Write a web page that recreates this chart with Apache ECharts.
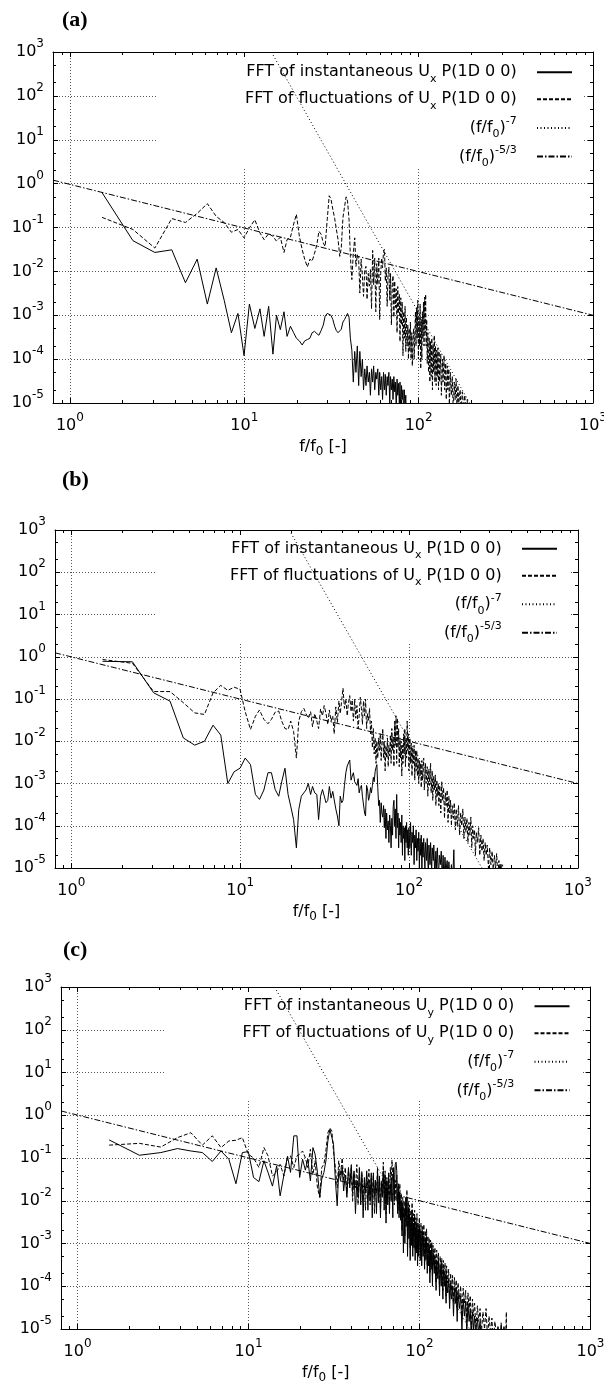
<!DOCTYPE html>
<html><head><meta charset="utf-8">
<script src="https://cdn.jsdelivr.net/npm/echarts@6/dist/echarts.min.js"></script>
<style>html,body{margin:0;padding:0;background:#fff}#c{width:604px;height:1384px}</style>
</head><body><div id="c"></div>
<script>
// ---------- tick values ----------
const X_MAJOR = [1, 10, 100, 1000];
const X_MINOR = [0.9, 2, 3, 4, 5, 6, 7, 8, 9, 20, 30, 40, 50, 60, 70, 80, 90, 200, 300, 400, 500, 600, 700, 800, 900];
const Y_MAJOR = [1e-5, 1e-4, 1e-3, 1e-2, 1e-1, 1, 10, 100, 1000];
const Y_MINOR = [2e-5, 5e-5, 2e-4, 5e-4, 2e-3, 5e-3, 0.02, 0.05, 0.2, 0.5, 2, 5, 20, 50, 200, 500];

// ---------- (a) ----------
const instA = [
[1.53,0.62],[2.30,0.05],[3.07,0.027],[3.84,0.031],[4.60,0.0055],[5.37,0.019],[6.14,0.0018],[6.90,0.012],[7.67,0.0022],[8.44,0.0004],[9.20,0.0011],[9.97,0.00012],
[10.7,0.0018],[11.5,0.0005],[12.3,0.0014],[13.0,0.00033],[13.8,0.0016],[14.6,0.00013],[15.3,0.001],[16.1,0.00047],[16.9,0.0012],[17.6,0.00033],[18.4,0.00056],[19.2,0.0004],[19.9,0.0003],
[20.7,0.00026],[21.5,0.00021],[22.2,0.00026],[23.0,0.00028],[23.8,0.0003],[24.5,0.0004],[25.3,0.00043],[26.1,0.00038],[26.8,0.00035],[27.6,0.00045],[28.4,0.0006],[29.1,0.00095],[29.9,0.0011],
[30.7,0.0012],[31.4,0.001],[32.2,0.0008],[33.0,0.00056],[33.7,0.00045],[34.5,0.0004],[35.3,0.0004],[36.0,0.00048],[36.8,0.0007],[37.6,0.0008],[38.4,0.00095],[39.1,0.0011],[39.9,0.0009],
[40.6,0.0003],[41.4,0.00016],[42.2,0.00003],[43.0,0.00015],[43.7,0.00005],[44.5,0.0002],[45.3,0.000025],[46.0,0.00015],[46.8,0.00004],[47.6,0.0001],[48.3,0.00002],[49.1,0.00006],[49.9,0.000025],
[50.6,0.00007],[51.4,0.00003],[52.2,0.00005],[52.9,0.000015],[53.7,0.00006],[54.5,0.00003],[55.2,0.00007],[56.0,0.00002],[56.8,0.00005],[57.5,0.000035],[58.3,0.00006],[59.1,0.000015],[59.8,0.00005],
[60.6,0.00002],[61.4,0.00004],[62.1,0.000012],[62.9,0.00005],[63.7,0.00002],[64.4,0.000045],[65.2,0.000015],[66.0,0.00004],[66.7,0.000025],[67.5,0.00005],[68.3,0.00001],[69.0,0.00004],[69.8,0.00002],
[70.6,0.000035],[71.3,0.000012],[72.1,0.00004],[72.9,0.000018],[73.6,0.00003],[74.4,0.000008],[75.2,0.000035],[75.9,0.000015],[76.7,0.000028],[77.5,0.00001],[78.2,0.00003],[79.0,0.000006],[79.8,0.000025],
[80.5,0.000012],[81.3,0.00002],[82.1,0.000005],[82.8,0.00002],[83.6,0.000009],[84.4,0.000015],[85.1,0.000004]
];
const flucA = [
[1.53,0.17],[2.30,0.09],[3.07,0.034],[3.84,0.16],[4.60,0.13],[5.37,0.21],[6.14,0.35],[6.90,0.18],[7.67,0.13],[8.44,0.078],[9.20,0.09],[9.97,0.058],
[10.7,0.098],[11.5,0.15],[12.3,0.075],[13.0,0.053],[13.8,0.072],[14.6,0.063],[15.3,0.049],[16.1,0.06],[16.9,0.027],[17.6,0.053],[18.4,0.06],[19.2,0.12],[19.9,0.2],
[20.7,0.063],[21.5,0.031],[22.2,0.019],[23.0,0.0126],[23.8,0.019],[24.5,0.017],[25.3,0.026],[26.1,0.041],[26.8,0.082],[27.6,0.07],[28.4,0.044],[29.1,0.037],[29.9,0.15],
[30.7,0.53],[31.4,0.45],[32.2,0.26],[33.0,0.16],[33.7,0.15],[34.5,0.053],[35.3,0.022],[36.0,0.034],[36.8,0.165],[37.6,0.3],[38.4,0.5],[39.1,0.4],[39.9,0.15],
[40.6,0.022],[41.4,0.0065],[42.2,0.026],[43.0,0.058],[43.7,0.013],[44.5,0.024],[45.3,0.019],[46.0,0.0032],[46.8,0.019],[47.6,0.0077],[48.3,0.0027],[49.1,0.011],[49.9,0.013],
[50.6,0.0023],[51.4,0.009],[52.2,0.0046],[52.9,0.011],[53.7,0.0014],[54.5,0.03],[55.2,0.005],[56.0,0.02],[56.8,0.0012],[57.5,0.015],[58.3,0.005],[59.1,0.02],[59.8,0.0008],
[60.6,0.009],[61.4,0.02],[62.1,0.012],[62.9,0.028],[63.7,0.032],[64.4,0.006],[65.2,0.012],[66.0,0.0016],[66.7,0.008],[67.5,0.0125],[68.3,0.0022],[69.0,0.009],[69.8,0.0006],
[70.6,0.005],[71.3,0.008],[72.1,0.0009],[72.9,0.006],[73.6,0.0015],[74.4,0.004],[75.2,0.0004],[75.9,0.0045],[76.7,0.0011],[77.5,0.003],[78.2,0.00025],[79.0,0.0025],[79.8,0.0006],
[80.5,0.002],[81.3,0.00012],[82.1,0.0012],[82.8,0.0003],[83.6,0.0016],[84.4,0.00015],[85.1,0.0009],[85.9,0.0002],[86.7,0.0006],[87.4,0.0001],[88.2,0.0005],[89.0,0.00015],[89.7,0.0007],
[90.5,0.0001],[91.3,0.0004],[92.0,0.00007],[92.8,0.0003],[93.6,0.0005],[94.3,0.0001],[95.1,0.0004],[95.9,0.0012],[96.6,0.0002],[97.4,0.0015],[98.2,0.0003],[98.9,0.0022],[99.7,0.0001],
[100.5,0.0009],[101.2,0.0002],[102,0.0018],[102.8,0.00006],[103.6,0.0008],[104.3,0.0001],[105.1,0.0012],[105.9,0.0003],[106.6,0.002],[107.4,0.0002],[108.2,0.0026],[108.9,0.0004],[109.7,0.003],
[110.5,0.0002],[111.2,0.0008],[112,0.00008],[113,0.0004],[114,0.00005],[115,0.0003],[116,0.00003],[117,0.00025],[118,0.00004],[119,0.0003],[120,0.00002],[121,0.00022],[122,0.00005],
[123,0.00035],[124,0.00003],[125,0.0002],[126,0.000025],[127,0.00016],[128,0.00004],[129,0.00018],[130,0.00002],[131,0.00015],[132,0.00003],[134,0.00013],[135,0.000015],[137,0.0001],
[138,0.00003],[140,0.00012],[141,0.00002],[143,0.00008],[144,0.000012],[146,0.00007],[147,0.00002],[149,0.00006],[150,0.000008],[152,0.00005],[154,0.000015],[156,0.00004],[158,0.000006],
[160,0.00003],[162,0.000012],[164,0.000035],[166,0.000008],[168,0.000025],[170,0.00001],[173,0.00002],[175,0.000006],[178,0.000018],[181,0.000008],[184,0.000015],[187,0.000005],[190,0.000012],[192,0.000004]
];
const powA7 = [[14.3, 1000], [196, 1e-5]];
const powA53 = [[0.8, 1.2], [1000, 0.001]];

// ---------- (b) ----------
const instB = [
[1.53,0.78],[2.30,0.76],[3.07,0.14],[3.84,0.089],[4.60,0.012],[5.37,0.0081],[6.14,0.01],[6.90,0.024],[7.67,0.014],[8.44,0.001],[9.20,0.0019],[9.97,0.0023],
[10.7,0.004],[11.5,0.0028],[12.3,0.00055],[13.0,0.00042],[13.8,0.0007],[14.6,0.0018],[15.3,0.0018],[16.1,0.00072],[16.9,0.0005],[17.6,0.0011],[18.4,0.0023],[19.2,0.00055],[19.9,0.00029],
[20.7,0.00014],[21.5,0.00003],[22.2,0.00024],[23.0,0.0005],[23.8,0.0006],[24.5,0.0007],[25.3,0.001],[26.1,0.00055],[26.8,0.00085],[27.6,0.0006],[28.4,0.00055],[29.1,0.00014],[29.9,0.0005],
[30.7,0.00072],[31.4,0.00072],[32.2,0.00035],[33.0,0.0004],[33.7,0.00085],[34.5,0.00045],[35.3,0.00065],[36.0,0.0007],[36.8,0.00025],[37.6,0.00017],[38.4,0.0001],[39.1,0.0005],[39.9,0.00035],
[40.6,0.0004],[41.4,0.0009],[42.2,0.0018],[43.0,0.0026],[43.7,0.0028],[44.5,0.0036],[45.3,0.0012],[46.0,0.0015],[46.8,0.0018],[47.6,0.0011],[48.3,0.0012],[49.1,0.0009],[49.9,0.0013],
[50.6,0.0006],[51.4,0.0008],[52.2,0.0009],[52.9,0.0005],[53.7,0.00055],[54.5,0.0002],[55.2,0.00017],[56.0,0.0009],[56.8,0.0007],[57.5,0.0004],[58.3,0.0005],[59.1,0.0008],[59.8,0.0006],
[60.6,0.0009],[61.4,0.0014],[62.1,0.0011],[62.9,0.0019],[63.7,0.0024],[64.4,0.0028],[65.2,0.0008],[66.0,0.0003],[66.7,0.0004],[67.5,0.00012],[68.3,0.00035],[69.0,0.0002],[69.8,0.00016],
[70.6,0.0003],[71.3,0.00009],[72.1,0.00025],[72.9,0.00005],[73.6,0.0002],[74.4,0.00008],[75.2,0.00013],[75.9,0.00004],[76.7,0.00018],[77.5,0.0001],[78.2,0.00003],[79.0,0.00015],[79.8,0.00006],
[80.5,0.00028],[81.3,0.0004],[82.1,0.0001],[82.8,0.00025],[83.6,0.00005],[84.4,0.00055],[85.1,0.00009],[85.9,0.0002],[86.7,0.00003],[87.4,0.00015],[88.2,0.00006],[89.0,0.00012],[89.7,0.00004],
[90.5,0.00018],[91.3,0.00002],[92.0,0.0001],[92.8,0.00005],[93.6,0.00009],[94.3,0.000015],[95.1,0.0001],[95.9,0.00004],[96.6,0.00012],[97.4,0.00003],[98.2,0.00008],[98.9,0.00002],[99.7,0.00009],
[101,0.00003],[102,0.00012],[103,0.00002],[104,0.00007],[105,0.00004],[106,0.0001],[107,0.000012],[108,0.00006],[109,0.00003],[110,0.00008],[111,0.000015],[112,0.00005],[113,0.000025],
[114,0.00007],[115,0.00001],[116,0.00005],[117,0.00002],[118,0.00006],[119,0.000008],[120,0.00004],[121,0.000018],[122,0.00005],[124,0.00001],[125,0.00004],[127,0.000015],[128,0.00005],
[130,0.000006],[131,0.000035],[133,0.000012],[134,0.00004],[136,0.000008],[137,0.00003],[139,0.000015],[140,0.000035],[142,0.000006],[144,0.000025],[145,0.00001],[147,0.00003],[149,0.000005],
[151,0.00002],[153,0.000012],[155,0.000025],[157,0.000006],[159,0.00002],[161,0.000004],[163,0.000018],[165,0.000008],[168,0.000015],[170,0.000005],[172,0.000014],[175,0.000004],[178,0.000012],
[181,0.000005],[184,0.000027],[186,0.000004]
];
const flucB = [
[1.53,0.86],[2.30,0.70],[3.07,0.15],[3.84,0.15],[4.60,0.082],[5.37,0.047],[6.14,0.043],[6.90,0.14],[7.67,0.21],[8.44,0.16],[9.20,0.19],[9.97,0.17],
[10.7,0.05],[11.5,0.019],[12.3,0.039],[13.0,0.055],[13.8,0.033],[14.6,0.026],[15.3,0.033],[16.1,0.049],[16.9,0.052],[17.6,0.03],[18.4,0.02],[19.2,0.019],[19.9,0.03],
[20.7,0.017],[21.5,0.004],[22.2,0.03],[23.0,0.05],[23.8,0.06],[24.5,0.045],[25.3,0.035],[26.1,0.05],[26.8,0.022],[27.6,0.045],[28.4,0.03],[29.1,0.02],[29.9,0.058],
[30.7,0.04],[31.4,0.07],[32.2,0.045],[33.0,0.025],[33.7,0.055],[34.5,0.03],[35.3,0.04],[36.0,0.015],[36.8,0.065],[37.6,0.028],[38.4,0.09],[39.1,0.045],[39.9,0.05],
[40.6,0.18],[41.4,0.06],[42.2,0.1],[43.0,0.04],[43.7,0.08],[44.5,0.12],[45.3,0.05],[46.0,0.095],[46.8,0.03],[47.6,0.1],[48.3,0.035],[49.1,0.07],[49.9,0.02],
[50.6,0.04],[51.4,0.11],[52.2,0.06],[52.9,0.025],[53.7,0.09],[54.5,0.04],[55.2,0.1],[56.0,0.02],[56.8,0.045],[57.5,0.03],[58.3,0.06],[59.1,0.015],[59.8,0.03],
[60.6,0.007],[61.4,0.02],[62.1,0.005],[62.9,0.012],[63.7,0.003],[64.4,0.01],[65.2,0.004],[66.0,0.012],[66.7,0.006],[67.5,0.015],[68.3,0.0035],[69.0,0.009],[69.8,0.02],
[70.6,0.004],[71.3,0.01],[72.1,0.002],[72.9,0.008],[73.6,0.004],[74.4,0.012],[75.2,0.0025],[75.9,0.008],[76.7,0.0045],[77.5,0.014],[78.2,0.003],[79.0,0.02],[79.8,0.006],
[80.5,0.012],[81.3,0.0025],[82.1,0.03],[82.8,0.008],[83.6,0.04],[84.4,0.003],[85.1,0.035],[85.9,0.007],[86.7,0.02],[87.4,0.0025],[88.2,0.012],[89.0,0.004],[89.7,0.01],
[90.5,0.0015],[91.3,0.008],[92.0,0.003],[92.8,0.015],[93.6,0.005],[94.3,0.02],[95.1,0.0025],[95.9,0.012],[96.6,0.004],[97.4,0.03],[98.2,0.006],[98.9,0.015],[99.7,0.002],
[101,0.012],[102,0.003],[103,0.009],[104,0.0015],[105,0.007],[106,0.003],[107,0.008],[108,0.0012],[109,0.006],[110,0.002],[111,0.006],[112,0.0015],[113,0.004],[114,0.001],
[115,0.0035],[116,0.0015],[117,0.003],[118,0.0008],[119,0.0035],[120,0.0012],[122,0.004],[123,0.0007],[125,0.003],[126,0.001],[128,0.0025],[129,0.0005],[131,0.0022],[132,0.0009],
[134,0.003],[135,0.0006],[137,0.002],[138,0.0004],[140,0.0015],[141,0.0007],[143,0.0016],[144,0.0003],[146,0.0012],[147,0.0005],[149,0.001],[150,0.0003],[152,0.0009],[154,0.0002],
[156,0.0011],[158,0.0004],[160,0.0008],[162,0.00015],[164,0.0006],[166,0.0003],[168,0.0007],[170,0.00012],[172,0.0005],[174,0.0002],[176,0.0004],[178,0.0001],[180,0.0003],[183,0.00015],
[185,0.00035],[188,0.00008],[190,0.00025],[193,0.0001],[196,0.0003],[199,0.00006],[202,0.0002],[205,0.0001],[208,0.00025],[211,0.00005],[214,0.00016],[217,0.00007],[220,0.00015],
[223,0.00004],[226,0.00012],[229,0.00006],[232,0.00016],[235,0.00003],[238,0.0001],[241,0.00005],[244,0.00008],[247,0.00002],[250,0.00007],[254,0.00004],[258,0.00009],[262,0.00002],
[266,0.00006],[270,0.000025],[274,0.00005],[278,0.000015],[282,0.00004],[286,0.00002],[290,0.000035],[295,0.00001],[300,0.00003],[305,0.000012],[310,0.000025],[315,0.000008],
[320,0.00002],[325,0.00001],[330,0.000022],[335,0.000006],[340,0.000015],[345,0.000008],[350,0.000013],[355,0.000006],[358,0.000012]
];
const powB7 = [[19.5, 1000], [270, 1e-5]];
const powB53 = [[0.8, 1.24], [1000, 0.001]];

// ---------- (c) ----------
const instC = [
[1.53,0.265],[2.30,0.116],[3.07,0.134],[3.84,0.166],[4.60,0.146],[5.37,0.134],[6.14,0.083],[6.90,0.146],[7.67,0.094],[8.44,0.025],[9.20,0.134],[9.97,0.141],
[10.7,0.035],[11.5,0.028],[12.3,0.086],[13.0,0.046],[13.8,0.022],[14.6,0.065],[15.3,0.013],[16.1,0.04],[16.9,0.11],[17.6,0.046],[18.4,0.33],[19.2,0.33],[19.9,0.035],
[20.7,0.094],[21.5,0.052],[22.2,0.094],[23.0,0.029],[23.8,0.175],[24.5,0.123],[25.3,0.046],[26.1,0.012],[26.8,0.032],[27.6,0.046],[28.4,0.09],[29.1,0.25],[29.9,0.47],
[30.7,0.45],[31.4,0.21],[32.2,0.03],[33.0,0.0076],[33.7,0.05],[34.5,0.03],[35.3,0.06],[36.0,0.017],[36.8,0.04],[37.6,0.012],[38.4,0.06],[39.1,0.02],[39.9,0.07],
[40.6,0.015],[41.4,0.05],[42.2,0.005],[43.0,0.03],[43.7,0.012],[44.5,0.06],[45.3,0.008],[46.0,0.04],[46.8,0.004],[47.6,0.035],[48.3,0.015],[49.1,0.05],[49.9,0.006],
[50.6,0.03],[51.4,0.01],[52.2,0.045],[52.9,0.004],[53.7,0.04],[54.5,0.012],[55.2,0.03],[56.0,0.005],[56.8,0.05],[57.5,0.009],[58.3,0.035],[59.1,0.004],[59.8,0.025],
[60.6,0.012],[61.4,0.05],[62.1,0.006],[62.9,0.04],[63.7,0.003],[64.4,0.03],[65.2,0.008],[66.0,0.045],[66.7,0.005],[67.5,0.025],[68.3,0.01],[69.0,0.035],[69.8,0.004],
[70.6,0.06],[71.3,0.012],[72.1,0.07],[72.9,0.08],[73.6,0.05],[74.4,0.006],[75.2,0.025],[75.9,0.004],[76.7,0.015],[77.5,0.0035],[78.2,0.01],[79.0,0.0015],[79.8,0.008],
[80.5,0.0006],[81.3,0.006],[82.1,0.001],[82.8,0.009],[83.6,0.0025],[84.4,0.012],[85.1,0.0005],[85.9,0.007],[86.7,0.0013],[87.4,0.005],[88.2,0.0004],[89.0,0.004],[89.7,0.0009],
[90.5,0.006],[91.3,0.0005],[92.0,0.003],[92.8,0.0008],[93.6,0.004],[94.3,0.0004],[95.1,0.0025],[95.9,0.0006],[96.6,0.003],[97.4,0.0003],[98.2,0.002],[98.9,0.0005],[99.7,0.0025],
[101,0.0004],[102,0.002],[103,0.0003],[104,0.0018],[105,0.0005],[106,0.0015],[107,0.00025],[108,0.0012],[109,0.0004],[110,0.0014],[111,0.0002],[112,0.001],[113,0.0003],
[114,0.0008],[115,0.00012],[116,0.0007],[117,0.00025],[118,0.0009],[119,0.0001],[120,0.0006],[122,0.0002],[123,0.0005],[125,0.00008],[126,0.0004],[128,0.00015],[129,0.0004],
[131,0.00006],[132,0.0003],[134,0.0001],[135,0.00035],[137,0.00005],[138,0.00025],[140,0.0001],[141,0.0002],[143,0.00004],[144,0.00018],[146,0.00007],[148,0.00015],[150,0.00003],
[152,0.00012],[154,0.00005],[156,0.0001],[158,0.00002],[160,0.00009],[162,0.00004],[164,0.00008],[166,0.000015],[168,0.00007],[171,0.00003],[174,0.00006],[177,0.00001],[180,0.00005],
[183,0.00002],[186,0.000045],[189,0.000008],[192,0.00004],[195,0.000015],[198,0.00003],[201,0.000006],[204,0.000025],[207,0.00001],[210,0.00002],[214,0.000005],[218,0.000018],
[222,0.000008],[226,0.000015],[230,0.000004]
];
const flucC = [
[1.53,0.2],[2.30,0.22],[3.07,0.18],[3.84,0.3],[4.60,0.39],[5.37,0.2],[6.14,0.33],[6.90,0.175],[7.67,0.25],[8.44,0.26],[9.20,0.3],[9.97,0.123],
[10.7,0.1],[11.5,0.06],[12.3,0.175],[13.0,0.112],[13.8,0.038],[14.6,0.046],[15.3,0.071],[16.1,0.038],[16.9,0.1],[17.6,0.112],[18.4,0.06],[19.2,0.112],[19.9,0.123],
[20.7,0.146],[21.5,0.1],[22.2,0.06],[23.0,0.16],[23.8,0.04],[24.5,0.086],[25.3,0.02],[26.1,0.012],[26.8,0.06],[27.6,0.071],[28.4,0.16],[29.1,0.39],[29.9,0.5],
[30.7,0.43],[31.4,0.146],[32.2,0.06],[33.0,0.02],[33.7,0.086],[34.5,0.04],[35.3,0.1],[36.0,0.03],[36.8,0.06],[37.6,0.015],[38.4,0.05],[39.1,0.025],[39.9,0.06],
[40.6,0.01],[41.4,0.045],[42.2,0.02],[43.0,0.07],[43.7,0.008],[44.5,0.04],[45.3,0.015],[46.0,0.05],[46.8,0.01],[47.6,0.03],[48.3,0.006],[49.1,0.04],[49.9,0.02],
[50.6,0.055],[51.4,0.008],[52.2,0.035],[52.9,0.012],[53.7,0.045],[54.5,0.005],[55.2,0.03],[56.0,0.015],[56.8,0.06],[57.5,0.01],[58.3,0.04],[59.1,0.006],[59.8,0.03],
[60.6,0.02],[61.4,0.08],[62.1,0.015],[62.9,0.05],[63.7,0.005],[64.4,0.035],[65.2,0.012],[66.0,0.04],[66.7,0.008],[67.5,0.06],[68.3,0.02],[69.0,0.09],[69.8,0.03],
[70.6,0.05],[71.3,0.008],[72.1,0.03],[72.9,0.01],[73.6,0.04],[74.4,0.005],[75.2,0.02],[75.9,0.006],[76.7,0.025],[77.5,0.004],[78.2,0.015],[79.0,0.002],[79.8,0.012],
[80.5,0.004],[81.3,0.01],[82.1,0.0015],[82.8,0.012],[83.6,0.005],[84.4,0.018],[85.1,0.0012],[85.9,0.01],[86.7,0.003],[87.4,0.008],[88.2,0.0008],[89.0,0.006],[89.7,0.002],
[90.5,0.009],[91.3,0.0009],[92.0,0.005],[92.8,0.0015],[93.6,0.006],[94.3,0.0007],[95.1,0.004],[95.9,0.0012],[96.6,0.005],[97.4,0.0006],[98.2,0.003],[98.9,0.001],[99.7,0.004],
[101,0.0007],[102,0.003],[103,0.0005],[104,0.0025],[105,0.0009],[106,0.0028],[107,0.0004],[108,0.002],[109,0.0007],[110,0.0022],[111,0.0003],[112,0.0015],[113,0.0006],
[114,0.0013],[115,0.0002],[116,0.0012],[117,0.0004],[118,0.0011],[119,0.00018],[120,0.0009],[122,0.0003],[123,0.0008],[125,0.00012],[126,0.0007],[128,0.00025],[129,0.0006],
[131,0.0001],[132,0.0005],[134,0.0002],[135,0.00045],[137,0.00008],[138,0.0004],[140,0.00015],[141,0.00035],[143,0.00006],[144,0.0003],[146,0.00012],[148,0.00025],[150,0.00005],
[152,0.0002],[154,0.00008],[156,0.00018],[158,0.00004],[160,0.00016],[162,0.00007],[164,0.00014],[166,0.00003],[168,0.00012],[171,0.00005],[174,0.0001],[177,0.00002],[180,0.00009],
[183,0.00004],[186,0.00008],[189,0.000015],[192,0.00007],[195,0.00003],[198,0.00006],[201,0.00001],[204,0.00005],[207,0.00002],[210,0.00004],[214,0.00001],[218,0.000035],
[222,0.000015],[226,0.00003],[230,0.000008],[235,0.000025],[240,0.00001],[245,0.00003],[250,0.000006],[255,0.00002],[260,0.000008],[265,0.000018],[270,0.000005],[276,0.000015],
[282,0.000007],[288,0.000012],[294,0.000004],[300,0.000014],[306,0.000006],[312,0.000012],[318,0.000004],[322,0.000025],[323,0.000006]
];
const powC7 = [[14.2, 1000], [196, 1e-5]];
const powC53 = [[0.8, 1.26], [1000, 0.001]];

// ---------- legend labels ----------
const GAP = '   ';
const LEGEND_TEXT = {
  inst: c => '{b|FFT of instantaneous U}{sub|' + c + '}{b| P(1D 0 0)' + GAP + '}',
  fluc: c => '{b|FFT of fluctuations of U}{sub|' + c + '}{b| P(1D 0 0)' + GAP + '}',
  p7: () => '{b|(f/f}{sub|0}{b|)}{sup|-7}{b|' + GAP + '}',
  p53: () => '{b|(f/f}{sub|0}{b|)}{sup|-5/3}{b|' + GAP + '}'
};

// ---------- build ----------
const FONT = 'DejaVu Sans';
const BLACK = '#000';
const DASH = [4, 2], DOT = [1, 2.5], DASHDOT = [6, 2, 1.5, 2];

const panels = [
  {tag: '(a)', comp: 'x', inst: instA, fluc: flucA, p7: powA7, p53: powA53,
   box: {l: 53, t: 52, r: 593, b: 403}, key: {x0: 157, x1: 582, y1: 168}, title: {left: 62, top: 9}},
  {tag: '(b)', comp: 'x', inst: instB, fluc: flucB, p7: powB7, p53: powB53,
   box: {l: 55, t: 530, r: 578, b: 868}, key: {x0: 156, x1: 571, y1: 642}, title: {left: 62, top: 469}},
  {tag: '(c)', comp: 'y', inst: instC, fluc: flucC, p7: powC7, p53: powC53,
   box: {l: 61, t: 987, r: 590.5, b: 1329}, key: {x0: 164, x1: 583, y1: 1099}, title: {left: 63, top: 939}}
];

const sci = v => '{b|10}{s|' + Math.round(Math.log10(v)) + '}';
const labelRich = {
  b: {fontFamily: FONT, fontSize: 16, lineHeight: 28, color: BLACK},
  s: {fontFamily: FONT, fontSize: 12, verticalAlign: 'top', color: BLACK}
};
const tickLine = {color: BLACK, width: 1};

const option = {
  animation: false,
  backgroundColor: '#fff',
  grid: [], xAxis: [], yAxis: [], series: [], legend: [], title: [], graphic: []
};

panels.forEach((P, i) => {
  const B = P.box;
  option.grid.push({left: B.l, top: B.t, width: B.r - B.l, height: B.b - B.t,
    containLabel: false, outerBoundsMode: 'none', show: false});
  const xBase = {gridIndex: i, type: 'log', logBase: 10, min: 0.8, max: 1000, silent: true};
  const yBase = {gridIndex: i, type: 'log', logBase: 10, min: 1e-5, max: 1000, silent: true, splitNumber: 8};
  option.xAxis.push(Object.assign({}, xBase, {
    position: 'bottom',
    axisLine: {show: true, onZero: false, lineStyle: tickLine},
    axisTick: {show: true, inside: true, length: 5, customValues: X_MAJOR, lineStyle: tickLine},
    axisLabel: {show: true, customValues: X_MAJOR, margin: 9, formatter: sci, rich: labelRich},
    splitLine: {show: true, lineStyle: {color: '#555', width: 1, type: [1, 2]}},
    name: '{b|f/f}{sub|0}{b| [-]}', nameLocation: 'middle', nameGap: 33, nameMoveOverlap: false,
    nameTextStyle: {rich: {
      b: {fontFamily: FONT, fontSize: 16, lineHeight: 22, color: BLACK},
      sub: {fontFamily: FONT, fontSize: 12, verticalAlign: 'bottom', color: BLACK}}}
  }));
  option.xAxis.push(Object.assign({}, xBase, {
    position: 'bottom', axisLine: {show: false},
    axisTick: {show: true, inside: true, length: 3, customValues: X_MINOR, lineStyle: tickLine},
    axisLabel: {show: false}, splitLine: {show: false}
  }));
  option.xAxis.push(Object.assign({}, xBase, {
    position: 'top', axisLine: {show: true, onZero: false, lineStyle: tickLine},
    axisTick: {show: true, inside: true, length: 5, customValues: X_MAJOR, lineStyle: tickLine},
    axisLabel: {show: false}, splitLine: {show: false}
  }));
  option.xAxis.push(Object.assign({}, xBase, {
    position: 'top', axisLine: {show: false},
    axisTick: {show: true, inside: true, length: 3, customValues: X_MINOR, lineStyle: tickLine},
    axisLabel: {show: false}, splitLine: {show: false}
  }));
  option.yAxis.push(Object.assign({}, yBase, {
    position: 'left',
    axisLine: {show: true, onZero: false, lineStyle: tickLine},
    axisTick: {show: true, inside: true, length: 5, customValues: Y_MAJOR, lineStyle: tickLine},
    axisLabel: {show: true, customValues: Y_MAJOR, margin: 9, formatter: sci, rich: labelRich},
    splitLine: {show: true, lineStyle: {color: '#555', width: 1, type: [1, 2]}}
  }));
  option.yAxis.push(Object.assign({}, yBase, {
    position: 'left', axisLine: {show: false},
    axisTick: {show: true, inside: true, length: 3, customValues: Y_MINOR, lineStyle: tickLine},
    axisLabel: {show: false}, splitLine: {show: false}
  }));
  option.yAxis.push(Object.assign({}, yBase, {
    position: 'right', axisLine: {show: true, onZero: false, lineStyle: tickLine},
    axisTick: {show: true, inside: true, length: 5, customValues: Y_MAJOR, lineStyle: tickLine},
    axisLabel: {show: false}, splitLine: {show: false}
  }));
  option.yAxis.push(Object.assign({}, yBase, {
    position: 'right', axisLine: {show: false},
    axisTick: {show: true, inside: true, length: 3, customValues: Y_MINOR, lineStyle: tickLine},
    axisLabel: {show: false}, splitLine: {show: false}
  }));

  const xi = i * 4, yi = i * 4;
  const names = {
    inst: P.tag + ' FFT of instantaneous U' + P.comp + ' P(1D 0 0)',
    fluc: P.tag + ' FFT of fluctuations of U' + P.comp + ' P(1D 0 0)',
    p7: P.tag + ' (f/f0)^-7',
    p53: P.tag + ' (f/f0)^-5/3'
  };
  const mk = (key, data, dash) => ({
    type: 'line', name: names[key], xAxisIndex: xi, yAxisIndex: yi, data: data,
    symbol: 'none', showSymbol: false, clip: true, silent: true, z: 2,
    lineStyle: {color: BLACK, width: 1, type: dash}
  });
  option.series.push(mk('inst', P.inst, 'solid'));
  option.series.push(mk('fluc', P.fluc, DASH));
  option.series.push(mk('p7', P.p7, DOT));
  option.series.push(mk('p53', P.p53, DASHDOT));

  const rowCenter2 = B.t + (B.b - B.t) / 8 + 3; // row 2 sits on the 10^2 line
  const fmt = {};
  fmt[names.inst] = LEGEND_TEXT.inst(P.comp);
  fmt[names.fluc] = LEGEND_TEXT.fluc(P.comp);
  fmt[names.p7] = LEGEND_TEXT.p7();
  fmt[names.p53] = LEGEND_TEXT.p53();
  option.legend.push({
    orient: 'vertical', align: 'right', selectedMode: false,
    right: 604 - (B.r - 20), top: rowCenter2 - 28 - 9,
    padding: 0, itemGap: 4.6, itemWidth: 35, itemHeight: 26,
    data: [names.inst, names.fluc, names.p7, names.p53],
    itemStyle: {opacity: 0},
    formatter: n => fmt[n],
    textStyle: {color: BLACK, fontFamily: FONT, fontSize: 16, rich: {
      b: {fontFamily: FONT, fontSize: 16, lineHeight: 24, color: BLACK},
      sub: {fontFamily: FONT, fontSize: 11, verticalAlign: 'bottom', color: BLACK},
      sup: {fontFamily: FONT, fontSize: 11, verticalAlign: 'top', color: BLACK}
    }}
  });
  option.title.push({text: P.tag, left: P.title.left, top: P.title.top, padding: 0,
    textStyle: {fontFamily: 'Liberation Serif', fontWeight: 'bold', fontSize: 22, color: BLACK}});
  option.graphic.push({type: 'rect', z: 1, silent: true,
    shape: {x: P.key.x0, y: B.t + 6, width: P.key.x1 - P.key.x0, height: P.key.y1 - B.t - 6},
    style: {fill: '#fff'}});
});

const chart = echarts.init(document.getElementById('c'), null, {renderer: 'canvas', width: 604, height: 1384});
chart.setOption(option);
</script></body></html>
